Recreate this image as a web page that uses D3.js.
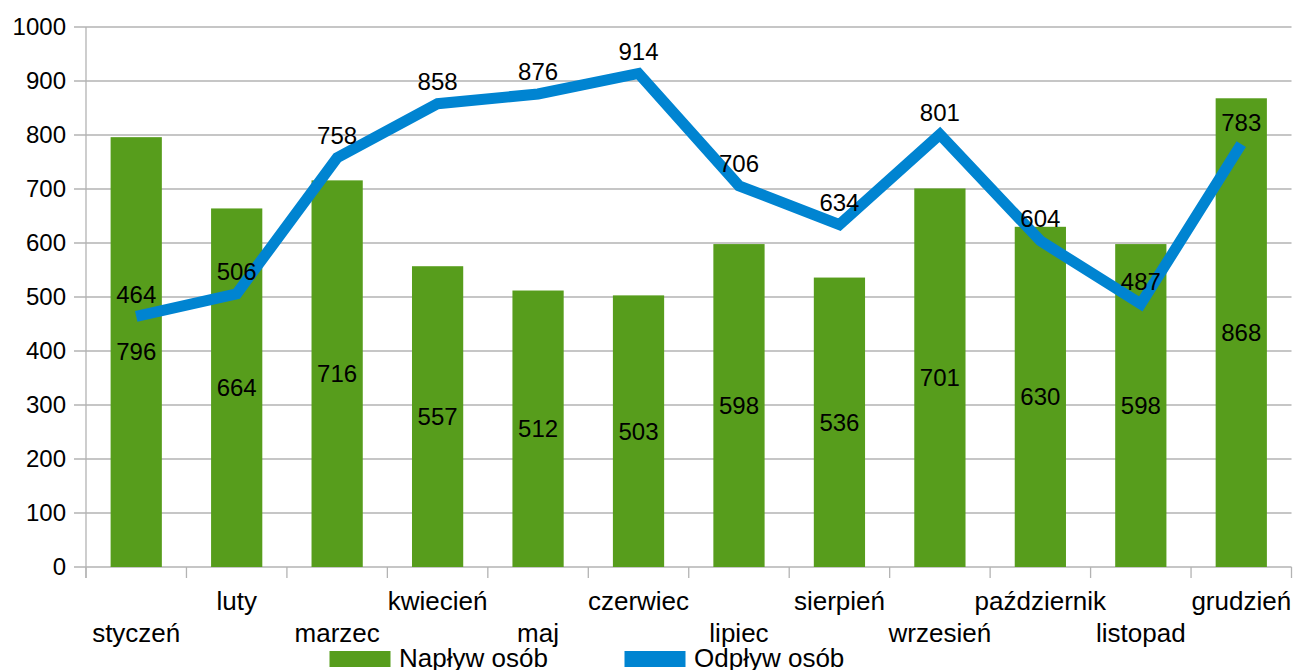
<!DOCTYPE html>
<html><head><meta charset="utf-8">
<script src="https://cdn.jsdelivr.net/npm/d3@7"></script>
<style>body{margin:0;background:#fff}svg{display:block}text{font-family:"Liberation Sans",Arial,sans-serif}</style>
</head><body>
<svg id="c" width="1295" height="670"></svg>
<script>
const categories = ["styczeń","luty","marzec","kwiecień","maj","czerwiec","lipiec","sierpień","wrzesień","październik","listopad","grudzień"];
const naplyw = [796,664,716,557,512,503,598,536,701,630,598,868];
const odplyw = [464,506,758,858,876,914,706,634,801,604,487,783];
const yTicks = [0,100,200,300,400,500,600,700,800,900,1000];
const seriesNames = ["Napływ osób","Odpływ osób"];
const colors = ["#579d1c","#0084d1"];

const svg = d3.select("#c");
const L = 86, R = 1291.5, T = 27, B = 567;
const x = d3.scaleBand().domain(categories).range([L, R]).paddingInner(0).paddingOuter(0);
const y = d3.scaleLinear().domain([0,1000]).range([B, T]);
const fs = 24, fsCat = 26;

// gridlines
svg.append("g").selectAll("line").data(yTicks).join("line")
  .attr("x1", L-12).attr("x2", R).attr("y1", d=>y(d)).attr("y2", d=>y(d))
  .attr("stroke","#b3b3b3").attr("stroke-width",1.3);
// left axis
svg.append("line").attr("x1",L).attr("x2",L).attr("y1",T).attr("y2",B+11).attr("stroke","#b3b3b3").attr("stroke-width",1.3);
// category ticks
const bounds = categories.map(c=>x(c)).concat([R]);
svg.append("g").selectAll("line").data(bounds).join("line")
  .attr("x1",d=>d).attr("x2",d=>d).attr("y1",B).attr("y2",B+11)
  .attr("stroke","#b3b3b3").attr("stroke-width",1.3);
// y labels
svg.append("g").selectAll("text").data(yTicks).join("text")
  .attr("x",66).attr("y",d=>y(d)).attr("dy","0.35em").attr("text-anchor","end")
  .attr("font-size",fs).attr("fill","#000").text(d=>d);
// x labels
svg.append("g").selectAll("text").data(categories).join("text")
  .attr("x",d=>x(d)+x.bandwidth()/2).attr("y",(d,i)=> i%2===0 ? 641.5 : 609.5)
  .attr("text-anchor","middle").attr("font-size",fsCat).attr("fill","#000").text(d=>d);

// bars
const bw = x.bandwidth()*0.51;
svg.append("g").selectAll("rect").data(naplyw).join("rect")
  .attr("x",(d,i)=>x(categories[i])+x.bandwidth()/2-bw/2).attr("width",bw)
  .attr("y",d=>y(d)).attr("height",d=>B-y(d)).attr("fill",colors[0]);

// line
const line = d3.line().x((d,i)=>x(categories[i])+x.bandwidth()/2).y(d=>y(d));
svg.append("path").datum(odplyw).attr("d",line).attr("fill","none")
  .attr("stroke",colors[1]).attr("stroke-width",11).attr("stroke-linejoin","miter").attr("stroke-miterlimit",4);

// bar labels
svg.append("g").selectAll("text").data(naplyw).join("text")
  .attr("x",(d,i)=>x(categories[i])+x.bandwidth()/2).attr("y",d=>(y(d)+B)/2).attr("dy","0.35em")
  .attr("text-anchor","middle").attr("font-size",fs).attr("fill","#000").text(d=>d);
// line labels
svg.append("g").selectAll("text").data(odplyw).join("text")
  .attr("x",(d,i)=>x(categories[i])+x.bandwidth()/2).attr("y",d=>y(d)-22).attr("dy","0.35em")
  .attr("text-anchor","middle").attr("font-size",fs).attr("fill","#000").text(d=>d);

// legend
const leg = [{x:329.5,tx:399},{x:624.5,tx:694}];
leg.forEach((p,i)=>{
  svg.append("rect").attr("x",p.x).attr("y",651).attr("width",61).attr("height",16).attr("fill",colors[i]);
  svg.append("text").attr("x",p.tx).attr("y",667).attr("font-size",fsCat).attr("fill","#000").text(seriesNames[i]);
});
</script>
</body></html>
